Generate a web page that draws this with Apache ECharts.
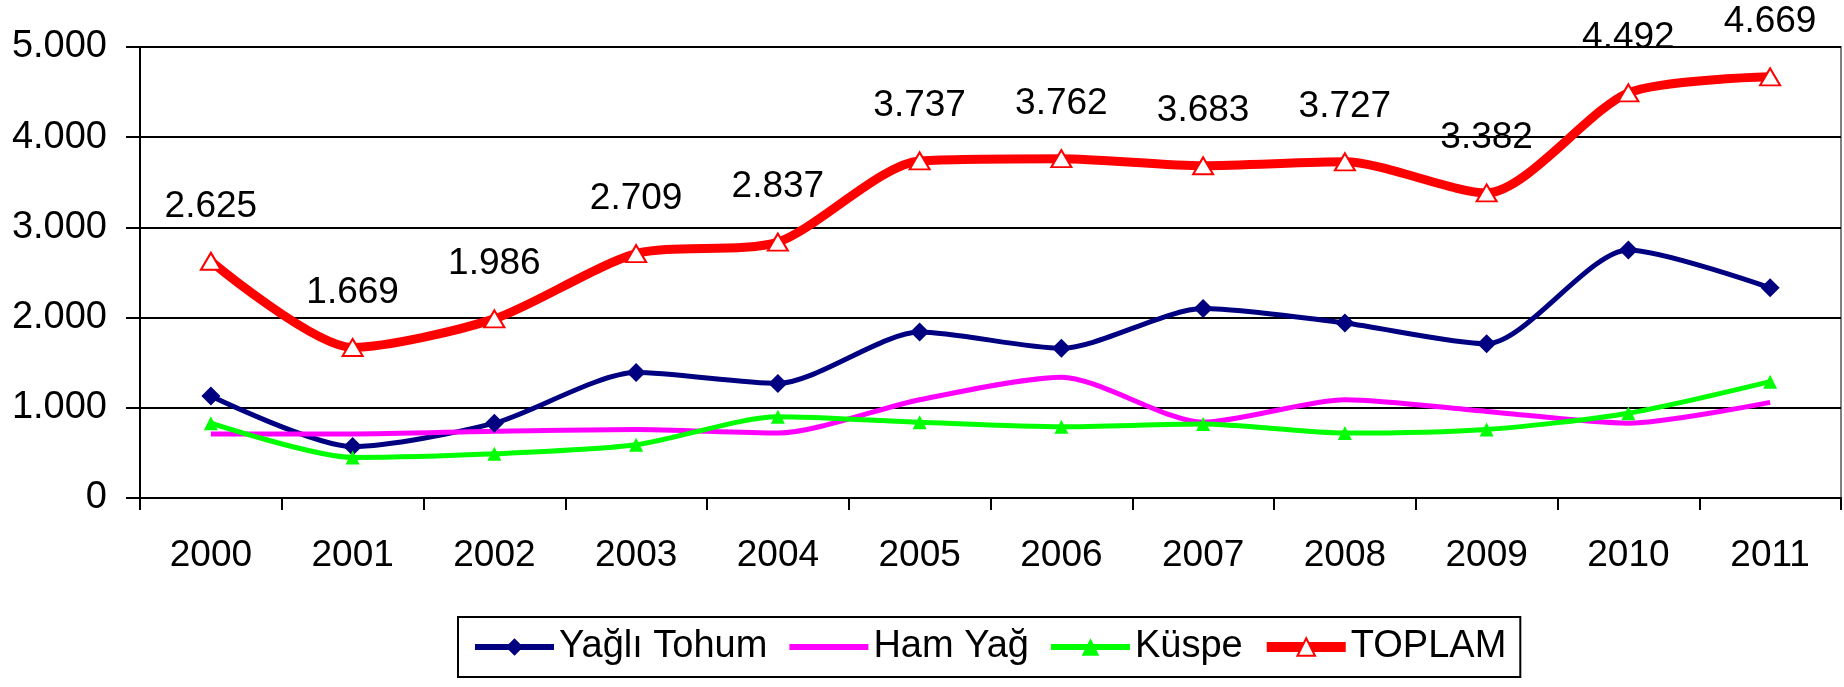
<!DOCTYPE html>
<html>
<head>
<meta charset="utf-8">
<script src="https://cdn.jsdelivr.net/npm/echarts@6/dist/echarts.min.js"></script>
<style>
  html, body { margin: 0; padding: 0; background: #fff; }
</style>
</head>
<body>
<div id="myChart" style="width:1844px;height:687px;"></div>
<script>
  // veriler
  var years = ['2000', '2001', '2002', '2003', '2004', '2005', '2006', '2007', '2008', '2009', '2010', '2011'];
  var yagliTohum = [1130, 570, 830, 1390, 1270, 1840, 1660, 2100, 1940, 1710, 2750, 2330];
  var hamYag = [710, 710, 740, 760, 720, 1090, 1340, 840, 1090, 960, 830, 1060];
  var kuspe = [830, 450, 490, 590, 900, 840, 790, 820, 720, 760, 940, 1290];
  var toplam = [2625, 1669, 1986, 2709, 2837, 3737, 3762, 3683, 3727, 3382, 4492, 4669];
  var yTicks = [0, 1000, 2000, 3000, 4000, 5000];

  var font = 'Liberation Sans, Arial, sans-serif';

  // 1000 -> "1.000"
  function fmt(v) {
    return String(v).replace(/\B(?=(\d{3})+(?!\d))/g, '.');
  }

  var myChart = echarts.init(document.getElementById('myChart'));
  myChart.setOption({
    animation: false,
    grid: {
      left: 140, right: 3, top: 47, bottom: 189,
      show: true, borderColor: '#808080', borderWidth: 2
    },
    legend: {
      left: 458, top: 617,
      padding: [11, 14, 11, 14],
      borderColor: '#000', borderWidth: 2,
      itemWidth: 79, itemHeight: 22, itemGap: 19,
      textStyle: { fontFamily: font, fontSize: 38, color: '#000' },
      data: [
        { name: 'Yağlı Tohum', lineStyle: { width: 6 } },
        { name: 'Ham Yağ', lineStyle: { width: 6 }, itemStyle: { opacity: 0 } },
        { name: 'Küspe', lineStyle: { width: 6 } },
        { name: 'TOPLAM', lineStyle: { width: 10 } }
      ]
    },
    xAxis: {
      type: 'category',
      data: years,
      boundaryGap: true,
      axisLine: { lineStyle: { color: '#000', width: 2 } },
      axisTick: { show: true, length: 12, lineStyle: { color: '#000', width: 2 } },
      axisLabel: { margin: 39, color: '#000', fontFamily: font, fontSize: 37 }
    },
    yAxis: {
      type: 'value',
      min: yTicks[0], max: yTicks[yTicks.length - 1], interval: 1000,
      axisLine: { show: true, lineStyle: { color: '#000', width: 2 } },
      axisTick: { show: true, length: 14, lineStyle: { color: '#000', width: 2 } },
      axisLabel: { margin: 33, color: '#000', fontFamily: font, fontSize: 38, formatter: fmt },
      splitLine: { lineStyle: { color: '#000', width: 2 } }
    },
    series: [
      {
        name: 'Yağlı Tohum', type: 'line', data: yagliTohum, smooth: 0.25,
        symbol: 'diamond', symbolSize: 19,
        itemStyle: { color: '#000080' },
        lineStyle: { color: '#000080', width: 5 }
      },
      {
        name: 'Ham Yağ', type: 'line', data: hamYag, smooth: 0.25,
        symbol: 'none',
        itemStyle: { color: '#ff00ff' },
        lineStyle: { color: '#ff00ff', width: 5 }
      },
      {
        name: 'Küspe', type: 'line', data: kuspe, smooth: 0.25,
        symbol: 'triangle', symbolSize: 14,
        itemStyle: { color: '#00ff00' },
        lineStyle: { color: '#00ff00', width: 5 }
      },
      {
        name: 'TOPLAM', type: 'line', data: toplam, smooth: 0.25,
        symbol: 'triangle', symbolSize: [20, 17],
        itemStyle: { color: '#fff', borderColor: '#ff0000', borderWidth: 2 },
        lineStyle: { color: '#ff0000', width: 9 },
        label: {
          show: true, position: 'top', distance: 27,
          color: '#000', fontFamily: font, fontSize: 37,
          formatter: function (p) { return fmt(p.value); }
        }
      }
    ]
  });
</script>
</body>
</html>
